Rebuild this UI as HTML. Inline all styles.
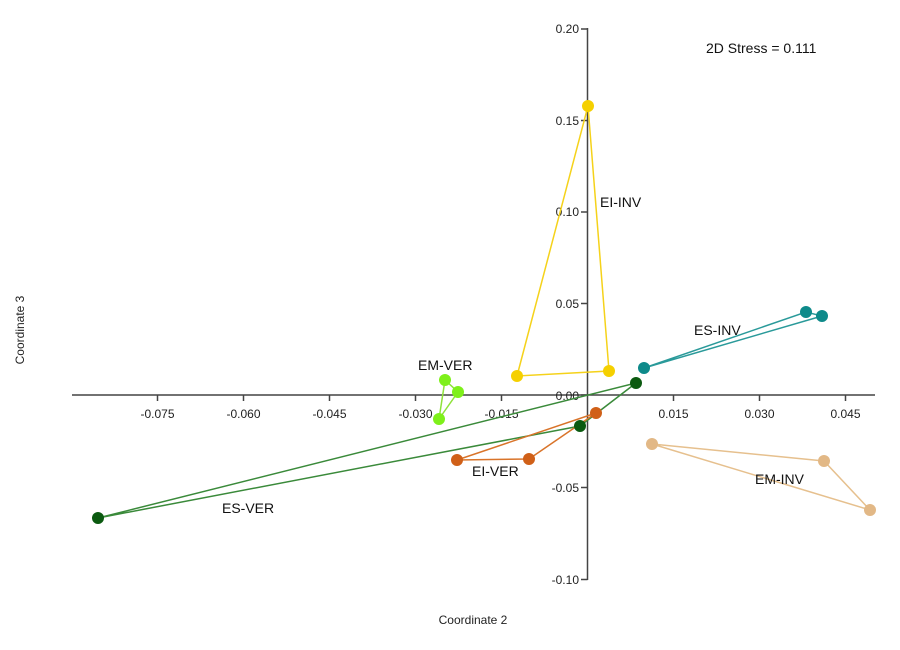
<!DOCTYPE html>
<html><head><meta charset="utf-8"><style>
body{margin:0;background:#fff;}
svg{display:block;font-family:"Liberation Sans",sans-serif;}
</style></head><body>
<svg width="900" height="650" viewBox="0 0 900 650">
<rect width="900" height="650" fill="#fff"/>
<g stroke="#444" stroke-width="1.5" fill="none">
<line x1="72" y1="395" x2="875" y2="395"/>
<line x1="587.5" y1="28" x2="587.5" y2="580"/>
<line x1="157.5" y1="395" x2="157.5" y2="401"/>
<line x1="243.5" y1="395" x2="243.5" y2="401"/>
<line x1="329.5" y1="395" x2="329.5" y2="401"/>
<line x1="415.5" y1="395" x2="415.5" y2="401"/>
<line x1="501.5" y1="395" x2="501.5" y2="401"/>
<line x1="673.5" y1="395" x2="673.5" y2="401"/>
<line x1="759.5" y1="395" x2="759.5" y2="401"/>
<line x1="845.5" y1="395" x2="845.5" y2="401"/>
<line x1="581" y1="29" x2="587.5" y2="29"/>
<line x1="581" y1="120.5" x2="587.5" y2="120.5"/>
<line x1="581" y1="212" x2="587.5" y2="212"/>
<line x1="581" y1="303.5" x2="587.5" y2="303.5"/>
<line x1="581" y1="395" x2="587.5" y2="395"/>
<line x1="581" y1="487.5" x2="587.5" y2="487.5"/>
<line x1="581" y1="579.5" x2="587.5" y2="579.5"/>
</g>
<g font-size="12" fill="#222" text-anchor="middle">
<text x="157.5" y="418">-0.075</text>
<text x="243.5" y="418">-0.060</text>
<text x="329.5" y="418">-0.045</text>
<text x="415.5" y="418">-0.030</text>
<text x="501.5" y="418">-0.015</text>
<text x="673.5" y="418">0.015</text>
<text x="759.5" y="418">0.030</text>
<text x="845.5" y="418">0.045</text>
</g>
<g font-size="12" fill="#222" text-anchor="end">
<text x="579" y="33">0.20</text>
<text x="579" y="125">0.15</text>
<text x="579" y="216">0.10</text>
<text x="579" y="308">0.05</text>
<text x="579" y="400">0.00</text>
<text x="579" y="492">-0.05</text>
<text x="579" y="584">-0.10</text>
</g>
<g fill="none" stroke-width="1.5">
<polygon points="588,106 517,376 609,371" stroke="#f5d21a"/>
<polygon points="644,368 806,312 822,316" stroke="#2a9a9a"/>
<polygon points="98,518 636,383 580,426" stroke="#3a8a3a"/>
<polygon points="596,413 457,460 529,459" stroke="#d9742a"/>
<polygon points="445,380 458,392 439,419" stroke="#8ee23a"/>
<polygon points="652,444 824,461 870,510" stroke="#e6c08e"/>
</g>
<g fill="#f5d000"><circle cx="588" cy="106" r="6"/><circle cx="517" cy="376" r="6"/><circle cx="609" cy="371" r="6"/></g>
<g fill="#0e8a8a"><circle cx="644" cy="368" r="6"/><circle cx="806" cy="312" r="6"/><circle cx="822" cy="316" r="6"/></g>
<g fill="#0b5a10"><circle cx="98" cy="518" r="6"/><circle cx="636" cy="383" r="6"/><circle cx="580" cy="426" r="6"/></g>
<g fill="#d06018"><circle cx="596" cy="413" r="6"/><circle cx="457" cy="460" r="6"/><circle cx="529" cy="459" r="6"/></g>
<g fill="#7ef01a"><circle cx="445" cy="380" r="6"/><circle cx="458" cy="392" r="6"/><circle cx="439" cy="419" r="6"/></g>
<g fill="#e2b886"><circle cx="652" cy="444" r="6"/><circle cx="824" cy="461" r="6"/><circle cx="870" cy="510" r="6"/></g>
<g font-size="14" fill="#111">
<text x="706" y="53">2D Stress = 0.111</text>
<text x="600" y="207">EI-INV</text>
<text x="694" y="335">ES-INV</text>
<text x="418" y="370">EM-VER</text>
<text x="472" y="476">EI-VER</text>
<text x="222" y="513">ES-VER</text>
<text x="755" y="484">EM-INV</text>
</g>
<text x="473" y="624" font-size="12" fill="#222" text-anchor="middle">Coordinate 2</text>
<text transform="translate(24,330) rotate(-90)" font-size="12" fill="#222" text-anchor="middle">Coordinate 3</text>
</svg>
</body></html>
